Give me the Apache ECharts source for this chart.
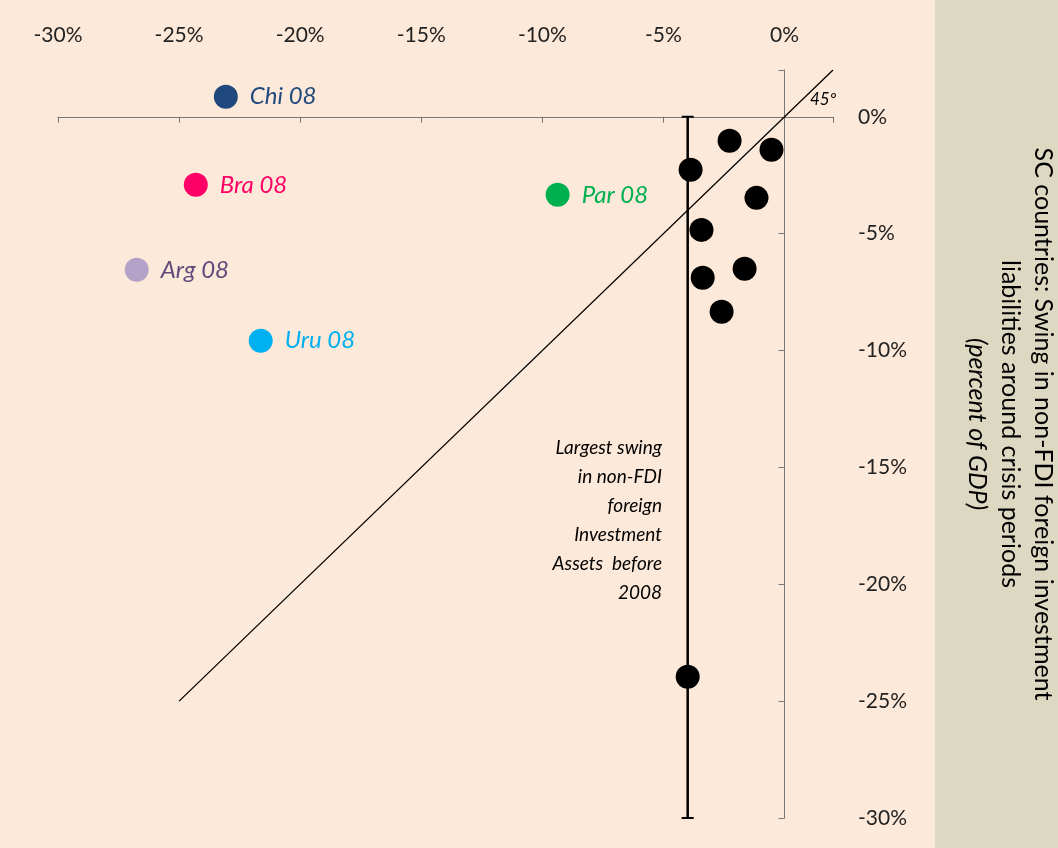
<!DOCTYPE html>
<html><head><meta charset="utf-8">
<script src="https://cdn.jsdelivr.net/npm/echarts@6/dist/echarts.min.js"></script>
<style>html,body{margin:0;padding:0;background:#fde9d9}#c{width:1058px;height:848px}</style>
</head><body><div id="c"></div>
<script>
const blackPoints = [[-2.27,-1.03],[-0.54,-1.41],[-3.88,-2.27],[-1.16,-3.47],[-3.43,-4.84],[-1.65,-6.5],[-3.38,-6.89],[-2.6,-8.34],[-4.0,-23.96]];
const namedNames = ['Chi 08','Bra 08','Par 08','Arg 08','Uru 08'];
const namedX = [-23.07,-24.31,-9.37,-26.75,-21.63];
const namedY = [0.86,-2.91,-3.34,-6.55,-9.58];
const dotColors = ['#1f497d','#ff0066','#00b050','#b3a2c7','#00b0f0'];
const labelColors = ['#1f497d','#ff0066','#00b050','#604a7b','#00b0f0'];
const diagonal = [[-25,-25],[2,2]];
const vline = [[-4,0],[-4,-30]];
const font = 'Lato, "Open Sans", sans-serif';
const chart = echarts.init(document.getElementById('c'));
const fmt = v => v + '%';
chart.setOption({
  backgroundColor: '#fde9d9',
  animation: false,
  grid: {left: 58, right: 225, top: 70, bottom: 30},
  xAxis: [
    {type:'value', min:-30, max:2, interval:5, position:'top', axisLine:{show:false, onZero:false}, axisTick:{show:false}, splitLine:{show:false},
     axisLabel:{formatter: v => v>0?'':fmt(v), fontSize:21, color:'#222', fontFamily:font, margin:24, showMaxLabel:false}},
    {type:'value', min:-30, max:2, interval:5, position:'bottom', axisLine:{show:true, onZero:true, lineStyle:{color:'#777'}}, axisTick:{show:true, length:6, lineStyle:{color:'#777'}}, axisLabel:{show:false}, splitLine:{show:false}}
  ],
  yAxis: [
    {type:'value', min:-30, max:2, interval:5, position:'right', axisLine:{show:false, onZero:false}, axisTick:{show:false}, splitLine:{show:false},
     axisLabel:{formatter: v => v>0?'':fmt(v), fontSize:21, color:'#222', fontFamily:font, margin:25}},
    {type:'value', min:-30, max:2, interval:5, position:'left', axisLine:{show:true, onZero:true, lineStyle:{color:'#777'}}, axisTick:{show:true, length:6, lineStyle:{color:'#777'}}, axisLabel:{show:false}, splitLine:{show:false}}
  ],
  series: [
    {type:'line', data: diagonal, symbol:'none', lineStyle:{color:'#000', width:1.3}, z:2},
    {type:'line', data: vline, symbol:'rect', symbolSize:[12,2], itemStyle:{color:'#000'}, lineStyle:{color:'#000', width:2.5}, z:2},
    {type:'scatter', data: blackPoints, symbolSize:24, itemStyle:{color:'#000', opacity:1}, z:3},
    {type:'scatter', symbolSize:24, z:3,
     data: namedNames.map((n,i)=>({value:[namedX[i],namedY[i]], itemStyle:{color:dotColors[i], opacity:1},
       label:{show:true, formatter:n, position:'right', distance:12, color:labelColors[i], fontSize:24, fontStyle:'italic', fontFamily:font}}))}
  ],
  graphic: [
    {type:'rect', left:935, top:0, shape:{width:123, height:848}, style:{fill:'#ddd8c2'}},
    {type:'text', x:810, y:100, style:{text:'45º', fontSize:17, fontStyle:'italic', fontFamily:font, fill:'#000', align:'left', verticalAlign:'middle'}},
    {type:'text', x:662, y:520, style:{text:'Largest swing\nin non-FDI\nforeign\nInvestment\nAssets  before\n2008', fontSize:19, lineHeight:29, fontStyle:'italic', fontFamily:font, fill:'#000', align:'right', verticalAlign:'middle'}},
    {type:'text', x:1043, y:424, rotation:-Math.PI/2, style:{text:'SC countries: Swing in non-FDI foreign investment', fontSize:25, fontFamily:font, fill:'#000', align:'center', verticalAlign:'middle'}},
    {type:'text', x:1010, y:424, rotation:-Math.PI/2, style:{text:'liabilities around crisis periods', fontSize:25, fontFamily:font, fill:'#000', align:'center', verticalAlign:'middle'}},
    {type:'text', x:977, y:424, rotation:-Math.PI/2, style:{text:'(percent of GDP)', fontSize:25, fontStyle:'italic', fontFamily:font, fill:'#000', align:'center', verticalAlign:'middle'}}
  ]
});
</script></body></html>
